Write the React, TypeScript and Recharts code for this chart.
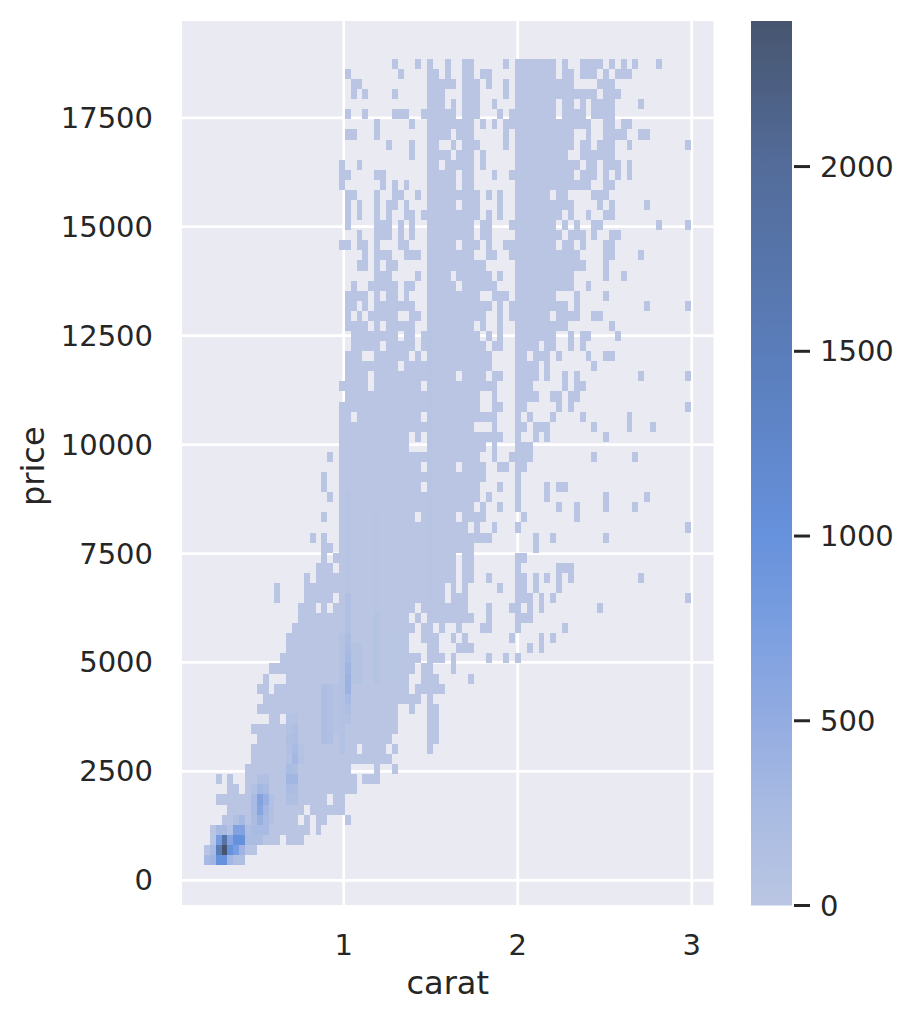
import React from "react";
import { ScatterChart, Scatter, XAxis, YAxis, CartesianGrid, ComposedChart, Bar } from "recharts";

// Axes
const caratTicks = [1, 2, 3];
const priceTicks = [0, 2500, 5000, 7500, 10000, 12500, 15000, 17500];
const countTicks = [0, 500, 1000, 1500, 2000];
const caratDomain = [0.0707, 3.125];
const priceDomain = [-567, 19722];
const countDomain = [0, 2394];

// Histogram bins
const caratStart = 0.197;
const caratStep = 0.03373;
const priceStart = 351;
const priceStep = 231.25;
const baseCount = 20;

// Occupied bins per price row (index 0 = lowest price), as carat-bin runs
const occupiedRows = [
  "0-6",
  "0-8",
  "1-12,14-16",
  "1-17,19",
  "3-15,17,19-20,24",
  "4-16,18-23",
  "2-20,22-23",
  "4-5,7-25",
  "2,4,7-25,27-29",
  "7-24,29,32",
  "8-31",
  "8-25,27-30,32,38",
  "9-31,38-39",
  "8-32,38-39",
  "11-12,14-32,38-39",
  "9-32,35,38-39",
  "10-36,38",
  "9-10,12-34,36-40",
  "10,14-34,37-39,45",
  "11-35,37-38,42",
  "13-36,38-40,42,48,51,53",
  "14-34,38-39,43-45,55,57",
  "14-34,37-39,42,44,52,57,59",
  "15-35,37-38,40,43,47-48,53,61",
  "16-34,36,38-45,48,53-55",
  "16-18,20,22-35,37-44,48,52-53,55,57,67",
  "12,17-21,23-40,42-44,53-55,57,59,82",
  "12,17-40,42,44,50,53-54,56,60",
  "17,19-42,44-45,48,53-54,56,58,60,62,74",
  "19-21,23-42,44-45,53,60-62",
  "20,22-42,44-45,53-54",
  "20-21,23-45,56",
  "18,20,23-48,56,59,68",
  "23-44,46,49,53,82",
  "20,23-35,37-42,44-47,54,63",
  "23-45,47,50,53,60,63,68,73",
  "21,23-46,48,53,58,68,75",
  "20,23-36,38-46,50,53,58,60-61",
  "20,23-47,53",
  "23-36,38-42,44-47,50-51,53-54",
  "21,23-46,49,52-55,66,73",
  "23-34,38-47,49,53-55",
  "23-34,36,38-50,53,56,58,68",
  "23-45,49,53-54,56-58,66,72,76",
  "23-24,26-36,38-49,53,55,59,64,72",
  "23-46,49-50,53-54,60,62,82",
  "24-46,49,53-56,59-60,62-63",
  "23-27,29-36,38-49,53-55,61,63-64",
  "24-27,29-42,44-47,49-50,53-56,58,61,63,74,82",
  "24-32,34-48,53-56,58,66",
  "24-26,29-34,36,38-48,53-54,56-58,60,65,68-69",
  "25-29,31-35,37-47,49-50,53-56,58-59,62,64",
  "25-32,34-35,37-46,48,50,53-59,62,64-65,70",
  "24-27,29,31-35,38-45,47,50,53-61,69",
  "24,26,28-32,35-36,38-47,50,52-58,60-63,66-67",
  "24-25,27,29-35,38-48,50,52-61,63,75,82",
  "24-27,29,31-32,34,38-46,49-51,53-59,63,68",
  "25,28-32,34-35,38-42,44-49,53-62,65",
  "29-31,36,38-41,43-48,50,53-62,68,71",
  "26-27,29,31-32,38-47,53-64,68",
  "27,29-31,34-36,38-45,48-49,52-63,68-69,74",
  "23-24,26-27,29,33-34,38-42,44-46,48,51-59,61-62,64,68-69",
  "26,29-31,33,35,38-45,47-48,53-60,62-64,66,69-70",
  "24,29-31,33,35,38-45,47-48,52-59,61,63,66-67,77,82",
  "24,26,29,31,34-35,37-46,48,50,53-60,62,65,68-69",
  "24,26,29,31-32,34,38-42,44-46,50,53-62,67,69,75",
  "24-25,29,32-33,36,38-46,48,50,53-58,60-61,66-68",
  "23,30,32,34,38-42,44-45,53-65,68-69",
  "23-24,29-30,38-42,44-45,49,52-62,64-66,68,70,72",
  "23,26,38-39,41-45,47,53-63,65-66,68-70,72",
  "35,38-41,43-45,47,53-61,64-69",
  "31,35,38-39,42,44-46,51,53-62,64-65,67-69,72,82",
  "24-25,29,38-41,43-45,51,53-62,65,68-71,74-75",
  "29,35,38-45,47,49,51-65,68-69,71-72",
  "24,27,32-34,37-42,44-46,50,52-59,61-64,66-69",
  "38-40,42,44-46,49,53-59,61-62,64,66-69,74",
  "25,27,32,38-40,44-46,51,53-66,68-70",
  "25-26,38-42,44-46,48,51,53-62,67-69",
  "24,33,38-39,41,44-45,47-48,53-59,61-62,64-66,68,70-72",
  "32,36,38,41,44-45,51,53-59,61,64-67,69,71,73,77",
];

// Denser bins: [first carat bin, last carat bin, first price row, last price row, count]
const denseBins = [
  [0, 0, 0, 0, 280], [1, 1, 0, 0, 350], [2, 3, 0, 0, 1000], [4, 4, 0, 0, 340], [5, 6, 0, 0, 170],
  [0, 0, 1, 1, 40], [1, 1, 1, 1, 250], [2, 2, 1, 1, 1500], [3, 3, 1, 1, 2390], [4, 4, 1, 1, 1000],
  [5, 5, 1, 1, 780], [6, 6, 1, 1, 360], [7, 8, 1, 1, 50],
  [1, 1, 2, 2, 30], [2, 2, 2, 2, 800], [3, 3, 2, 2, 1800], [4, 4, 2, 2, 650], [5, 6, 2, 2, 1000],
  [7, 7, 2, 2, 230], [8, 9, 2, 2, 200],
  [2, 3, 3, 3, 260], [4, 4, 3, 3, 100], [5, 5, 3, 3, 700], [6, 6, 3, 3, 680], [7, 7, 3, 3, 160], [8, 10, 3, 3, 250],
  [5, 5, 4, 4, 150], [6, 6, 4, 4, 290], [8, 8, 4, 4, 200], [9, 9, 4, 4, 430], [10, 10, 4, 4, 250], [11, 11, 4, 4, 120],
  [8, 8, 5, 6, 250], [9, 9, 5, 5, 620], [10, 10, 5, 5, 320], [11, 11, 5, 6, 120], [9, 9, 6, 6, 680], [10, 10, 6, 6, 450],
  [8, 8, 7, 7, 120], [9, 9, 7, 7, 320], [10, 10, 7, 7, 240], [9, 10, 8, 8, 150],
  [14, 15, 6, 6, 170], [14, 14, 7, 7, 230], [15, 15, 7, 7, 190], [14, 15, 8, 8, 340], [14, 14, 9, 9, 230], [15, 15, 9, 9, 180],
  [14, 14, 10, 10, 110], [15, 15, 10, 10, 310], [16, 16, 10, 10, 100], [14, 14, 11, 11, 130], [15, 15, 11, 11, 250],
  [16, 16, 11, 11, 90], [14, 14, 12, 12, 170], [15, 15, 12, 12, 180], [14, 14, 13, 13, 110], [15, 15, 13, 13, 160],
  [14, 15, 14, 14, 90],
  [20, 20, 12, 17, 190], [21, 21, 12, 17, 130], [22, 22, 13, 17, 80], [23, 23, 11, 17, 110],
  [24, 24, 14, 14, 120], [24, 24, 15, 15, 190], [24, 24, 16, 16, 250], [24, 24, 17, 18, 400],
  [24, 24, 19, 19, 350], [24, 24, 20, 20, 280], [24, 24, 21, 21, 240], [24, 24, 22, 22, 200],
  [24, 24, 23, 26, 150], [24, 24, 27, 36, 60], [23, 23, 18, 22, 110], [25, 26, 18, 21, 70],
  [29, 29, 18, 24, 70], [29, 29, 25, 34, 40], [31, 33, 18, 22, 32], [38, 38, 26, 60, 35],
];

// Colour scale of the counts
const rampCounts = [0, 250, 500, 750, 1000, 1500, 2000, 2394];
const rampColors = ["#bac6e3", "#a9bbe2", "#93ace1", "#7b9fe0", "#6691dc", "#5a7dba", "#536c9a", "#47556f"];

const hexToRgb = (h: string) => [1, 3, 5].map((i) => parseInt(h.slice(i, i + 2), 16));
const colorOf = (count: number) => {
  let i = 0;
  while (i < rampCounts.length - 2 && count > rampCounts[i + 1]) i++;
  const t = Math.min(1, (count - rampCounts[i]) / (rampCounts[i + 1] - rampCounts[i]));
  const a = hexToRgb(rampColors[i]);
  const b = hexToRgb(rampColors[i + 1]);
  return `rgb(${a.map((v, k) => Math.round(v + (b[k] - v) * t)).join(",")})`;
};

const denseLookup = new Map<string, number>();
denseBins.forEach(([c0, c1, r0, r1, n]) => {
  for (let c = c0; c <= c1; c++) for (let r = r0; r <= r1; r++) denseLookup.set(`${c}:${r}`, n);
});

const cells = occupiedRows.flatMap((row, r) =>
  row.split(",").flatMap((run) => {
    const [a, b] = run.split("-").map(Number);
    const out: { carat: number; price: number; count: number }[] = [];
    for (let c = a; c <= (b ?? a); c++) {
      out.push({
        carat: caratStart + (c + 0.5) * caratStep,
        price: priceStart + (r + 0.5) * priceStep,
        count: denseLookup.get(`${c}:${r}`) ?? baseCount,
      });
    }
    return out;
  })
);

const colorbarData = [{ name: "count", value: countDomain[1] }];

const FONT = "'DejaVu Sans', sans-serif";
const INK = "#262626";
const TICK_SIZE = 29;
const LABEL_SIZE = 32;
const W = 912;
const H = 1020;
const plot = { left: 182, right: 713.5, top: 21, bottom: 905 };
const cellW = (caratStep / (caratDomain[1] - caratDomain[0])) * (plot.right - plot.left);
const cellH = (priceStep / (priceDomain[1] - priceDomain[0])) * (plot.bottom - plot.top);

const CellShape = (p: any) => (
  <rect
    x={p.cx - cellW / 2}
    y={p.cy - cellH / 2}
    width={cellW}
    height={cellH}
    fill={colorOf(p.payload.count)}
    shapeRendering="crispEdges"
  />
);

const BarTick = (p: any) => (
  <g>
    <line x1={p.x + 2} x2={p.x + 18} y1={p.y} y2={p.y} stroke={INK} strokeWidth={3} />
    <text x={p.x + 28} y={p.y + 10} fontSize={TICK_SIZE} fontFamily={FONT} fill={INK} textAnchor="start">
      {p.payload.value}
    </text>
  </g>
);

const XTick = (p: any) => (
  <text x={p.x} y={955} fontSize={TICK_SIZE} fontFamily={FONT} fill={INK} textAnchor="middle">
    {p.payload.value}
  </text>
);

const YTick = (p: any) => (
  <text x={153} y={p.y + 10} fontSize={TICK_SIZE} fontFamily={FONT} fill={INK} textAnchor="end">
    {p.payload.value}
  </text>
);

export default function App() {
  return (
    <div style={{ position: "absolute", left: 0, top: 0, width: W, height: H, background: "#fff" }}>
      <div style={{ position: "absolute", left: 0, top: 0 }}>
        <ScatterChart
          width={W}
          height={H}
          margin={{ left: 0, top: plot.top, right: W - plot.right, bottom: 0 }}
        >
          <CartesianGrid fill="#eaeaf2" fillOpacity={1} stroke="#ffffff" strokeWidth={2.75} strokeDasharray="" syncWithTicks />
          <XAxis
            type="number"
            dataKey="carat"
            domain={caratDomain}
            ticks={caratTicks}
            interval={0}
            height={H - plot.bottom}
            axisLine={false}
            tickLine={false}
            tick={XTick}
            label={{ value: "carat", position: "insideBottom", offset: 26, fontSize: LABEL_SIZE, fontFamily: FONT, fill: INK }}
          />
          <YAxis
            type="number"
            dataKey="price"
            domain={priceDomain}
            ticks={priceTicks}
            interval={0}
            width={plot.left}
            axisLine={false}
            tickLine={false}
            tick={YTick}
            label={{ value: "price", angle: -90, position: "insideLeft", offset: 33, dy: 43, fontSize: LABEL_SIZE, fontFamily: FONT, fill: INK }}
          />
          <Scatter data={cells} shape={CellShape} isAnimationActive={false} />
        </ScatterChart>
      </div>
      <div style={{ position: "absolute", left: 700, top: 0 }}>
        <ComposedChart
          width={212}
          height={H}
          data={colorbarData}
          margin={{ left: 51, right: 0, top: 21, bottom: H - 905.5 }}
          barCategoryGap={0}
        >
          <defs>
            <linearGradient id="countRamp" x1="0" y1="0" x2="0" y2="1">
              {rampCounts
                .map((c, i) => ({ offset: 1 - c / countDomain[1], color: rampColors[i] }))
                .reverse()
                .map((s) => (
                  <stop key={s.offset} offset={s.offset} stopColor={s.color} />
                ))}
            </linearGradient>
          </defs>
          <XAxis dataKey="name" type="category" hide />
          <YAxis
            orientation="right"
            type="number"
            domain={countDomain}
            ticks={countTicks}
            interval={0}
            width={120}
            axisLine={false}
            tickLine={false}
            tickMargin={0}
            tickSize={0}
            tick={BarTick}
          />
          <Bar dataKey="value" fill="url(#countRamp)" isAnimationActive={false} />
        </ComposedChart>
      </div>
    </div>
  );
}
